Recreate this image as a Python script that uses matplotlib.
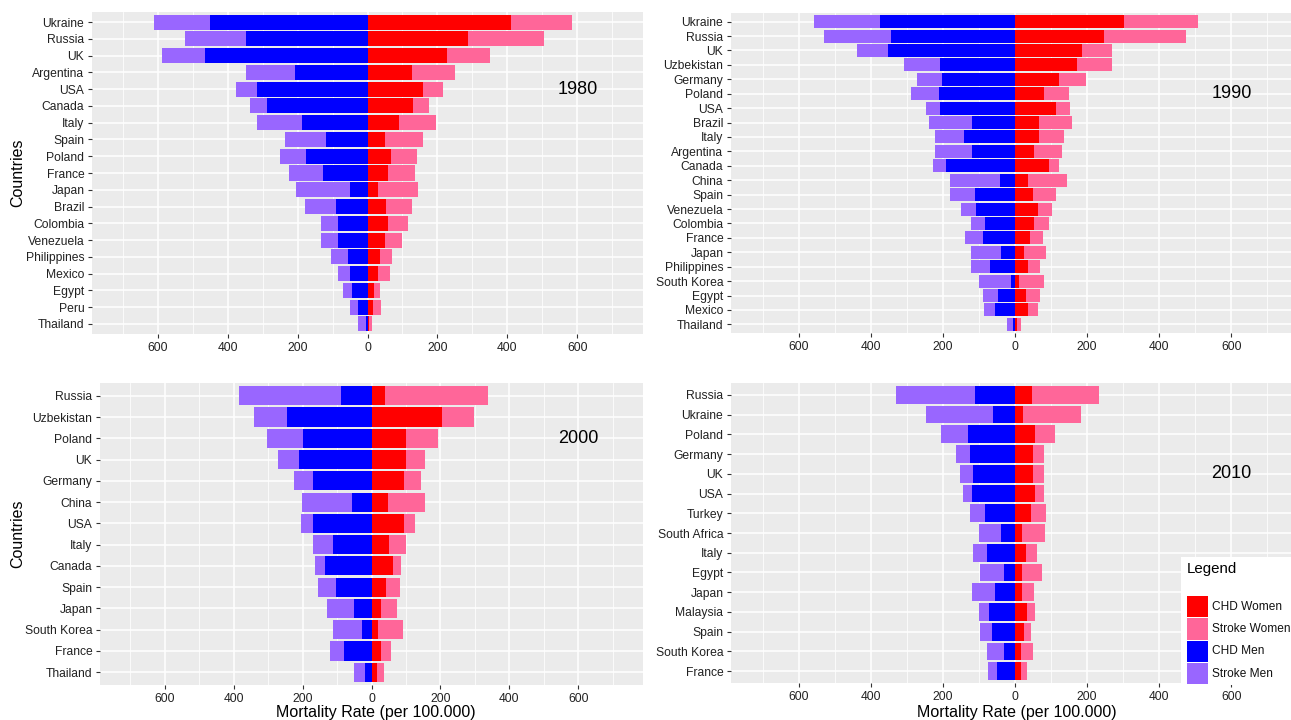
import matplotlib
matplotlib.use('Agg')
import matplotlib.pyplot as plt
import numpy as np
from matplotlib.patches import Rectangle

plt.rcParams['font.family'] = ['Liberation Sans', 'DejaVu Sans']

W, H = 1291, 720

# ---------------- data ----------------
countries_1980 = ['Ukraine', 'Russia', 'UK', 'Argentina', 'USA', 'Canada', 'Italy', 'Spain',
                  'Poland', 'France', 'Japan', 'Brazil', 'Colombia', 'Venezuela', 'Philippines',
                  'Mexico', 'Egypt', 'Peru', 'Thailand']
chd_men_1980 = [449, 347, 465, 207, 316, 286, 188, 120, 176, 126, 51, 90, 84, 85, 56, 49, 44, 26, 3]
stroke_men_1980 = [160, 176, 122, 140, 60, 51, 127, 115, 75, 97, 154, 88, 50, 49, 47, 35, 26, 25, 24]
chd_women_1980 = [409, 287, 227, 126, 160, 130, 91, 51, 66, 59, 31, 52, 58, 50, 37, 29, 19, 17, 3]
stroke_women_1980 = [175, 218, 124, 124, 55, 47, 106, 109, 76, 78, 114, 74, 58, 48, 34, 36, 17, 21, 11]

countries_1990 = ['Ukraine', 'Russia', 'UK', 'Uzbekistan', 'Germany', 'Poland', 'USA', 'Brazil',
                  'Italy', 'Argentina', 'Canada', 'China', 'Spain', 'Venezuela', 'Colombia',
                  'France', 'Japan', 'Philippines', 'South Korea', 'Egypt', 'Mexico', 'Thailand']
chd_men_1990 = [374, 345, 353, 209, 203, 210, 208, 118, 141, 119, 190, 41, 110, 108, 82, 88, 40, 70, 12, 46, 56, 5]
stroke_men_1990 = [183, 185, 84, 98, 69, 79, 39, 120, 82, 104, 37, 140, 70, 43, 40, 52, 83, 51, 89, 42, 30, 16]
chd_women_1990 = [301, 247, 185, 171, 122, 80, 115, 67, 67, 54, 94, 35, 50, 63, 54, 41, 26, 37, 10, 31, 37, 5]
stroke_women_1990 = [207, 228, 84, 97, 76, 69, 38, 90, 69, 77, 29, 110, 64, 39, 41, 37, 61, 32, 70, 38, 27, 11]

countries_2000 = ['Russia', 'Uzbekistan', 'Poland', 'UK', 'Germany', 'China', 'USA', 'Italy',
                  'Canada', 'Spain', 'Japan', 'South Korea', 'France', 'Thailand']
chd_men_2000 = [88, 246, 198, 211, 169, 58, 169, 113, 134, 104, 52, 28, 79, 20]
stroke_men_2000 = [296, 95, 106, 60, 55, 144, 36, 58, 30, 50, 76, 84, 40, 32]
chd_women_2000 = [39, 205, 99, 101, 95, 48, 93, 52, 62, 42, 27, 18, 29, 15]
stroke_women_2000 = [300, 91, 95, 54, 50, 107, 34, 48, 25, 40, 46, 73, 29, 20]

countries_2010 = ['Russia', 'Ukraine', 'Poland', 'Germany', 'UK', 'USA', 'Turkey', 'South Africa',
                  'Italy', 'Egypt', 'Japan', 'Malaysia', 'Spain', 'South Korea', 'France']
chd_men_2010 = [111, 60, 130, 125, 117, 118, 83, 40, 78, 30, 55, 73, 65, 30, 50]
stroke_men_2010 = [219, 187, 75, 38, 35, 26, 42, 59, 39, 68, 63, 27, 32, 48, 25]
chd_women_2010 = [47, 22, 56, 51, 49, 56, 43, 20, 31, 20, 20, 32, 24, 16, 16]
stroke_women_2010 = [186, 160, 55, 30, 31, 24, 42, 64, 29, 55, 33, 23, 20, 34, 16]

series_labels = ['CHD Women', 'Stroke Women', 'CHD Men', 'Stroke Men']
series_colors = ['#FF0000', '#FF6699', '#0000FF', '#9966FF']

x_ticks = [-600, -400, -200, 0, 200, 400, 600]
x_tick_labels = ['600', '400', '200', '0', '200', '400', '600']
x_minor_ticks = [-700, -500, -300, -100, 100, 300, 500, 700]

x_label = 'Mortality Rate (per 100.000)'
y_label = 'Countries'

# ---------------- figure ----------------
fig = plt.figure(figsize=(W / 100, H / 100), dpi=100)
fig.patch.set_facecolor('white')


def px_rect(l, t, r, b):
    return [l / W, 1 - b / H, (r - l) / W, (b - t) / H]


def draw(ax, countries, cm, sm, cw, sw, year, year_row):
    n = len(countries)
    y = np.arange(n)
    cm = np.asarray(cm, float)
    sm = np.asarray(sm, float)
    cw = np.asarray(cw, float)
    sw = np.asarray(sw, float)
    c_cw, c_sw, c_cm, c_sm = series_colors
    ax.barh(y, -cm, height=0.9, color=c_cm, linewidth=0, zorder=2)
    ax.barh(y, -sm, left=-cm, height=0.9, color=c_sm, linewidth=0, zorder=2)
    ax.barh(y, cw, height=0.9, color=c_cw, linewidth=0, zorder=2)
    ax.barh(y, sw, left=cw, height=0.9, color=c_sw, linewidth=0, zorder=2)
    ax.set_xlim(-787.5, 787.5)
    ax.set_ylim(n - 0.4, -0.6)
    ax.set_facecolor('#EBEBEB')
    ax.set_xticks(x_ticks)
    ax.set_xticklabels(x_tick_labels)
    ax.set_xticks(x_minor_ticks, minor=True)
    ax.set_yticks(y)
    ax.set_yticklabels(countries)
    ax.grid(which='major', color='white', linewidth=1.1, zorder=0)
    ax.grid(which='minor', axis='x', color='white', linewidth=0.55, zorder=0)
    ax.set_axisbelow(True)
    for s in ax.spines.values():
        s.set_visible(False)
    ax.tick_params(which='major', length=3, width=0.8, color='#333333',
                   labelsize=8.7, labelcolor='#222222', pad=2.5)
    ax.tick_params(which='minor', length=0)
    ax.text(600, year_row, year, ha='center', va='center', fontsize=13, color='black', zorder=3)


ax1 = fig.add_axes(px_rect(92, 12, 643, 334))
draw(ax1, countries_1980, chd_men_1980, stroke_men_1980, chd_women_1980, stroke_women_1980, '1980', 4)

ax2 = fig.add_axes(px_rect(731, 13, 1299, 333))
draw(ax2, countries_1990, chd_men_1990, stroke_men_1990, chd_women_1990, stroke_women_1990, '1990', 5)

ax3 = fig.add_axes(px_rect(100, 383, 643, 685))
draw(ax3, countries_2000, chd_men_2000, stroke_men_2000, chd_women_2000, stroke_women_2000, '2000', 2)

ax4 = fig.add_axes(px_rect(731, 383, 1299, 683))
draw(ax4, countries_2010, chd_men_2010, stroke_men_2010, chd_women_2010, stroke_women_2010, '2010', 4)

# axis titles
fig.text(18 / W, 1 - 173 / H, y_label, rotation=90, ha='center', va='center', fontsize=11.5)
fig.text(18 / W, 1 - 534 / H, y_label, rotation=90, ha='center', va='center', fontsize=11.5)
fig.text(376 / W, 1 - 712 / H, x_label, ha='center', va='center', fontsize=11.5)
fig.text(1017 / W, 1 - 712 / H, x_label, ha='center', va='center', fontsize=11.5)

# legend (overlaid on the 2010 panel)
lax = fig.add_axes(px_rect(1181, 557, 1291, 685), zorder=5)
lax.set_xlim(0, 110)
lax.set_ylim(128, 0)
lax.axis('off')
lax.add_patch(Rectangle((0, 0), 110, 128, facecolor='white', linewidth=0, clip_on=False))
lax.text(6, 12, 'Legend', fontsize=10.8, ha='left', va='center')
for i, (lab, col) in enumerate(zip(series_labels, series_colors)):
    top = 39 + i * 22.3
    lax.add_patch(Rectangle((6, top), 21, 21.3, facecolor=col, linewidth=0))
    lax.text(31, top + 10.7, lab, fontsize=8.6, ha='left', va='center', color='#111111')

fig.savefig('out.png', dpi=100)
